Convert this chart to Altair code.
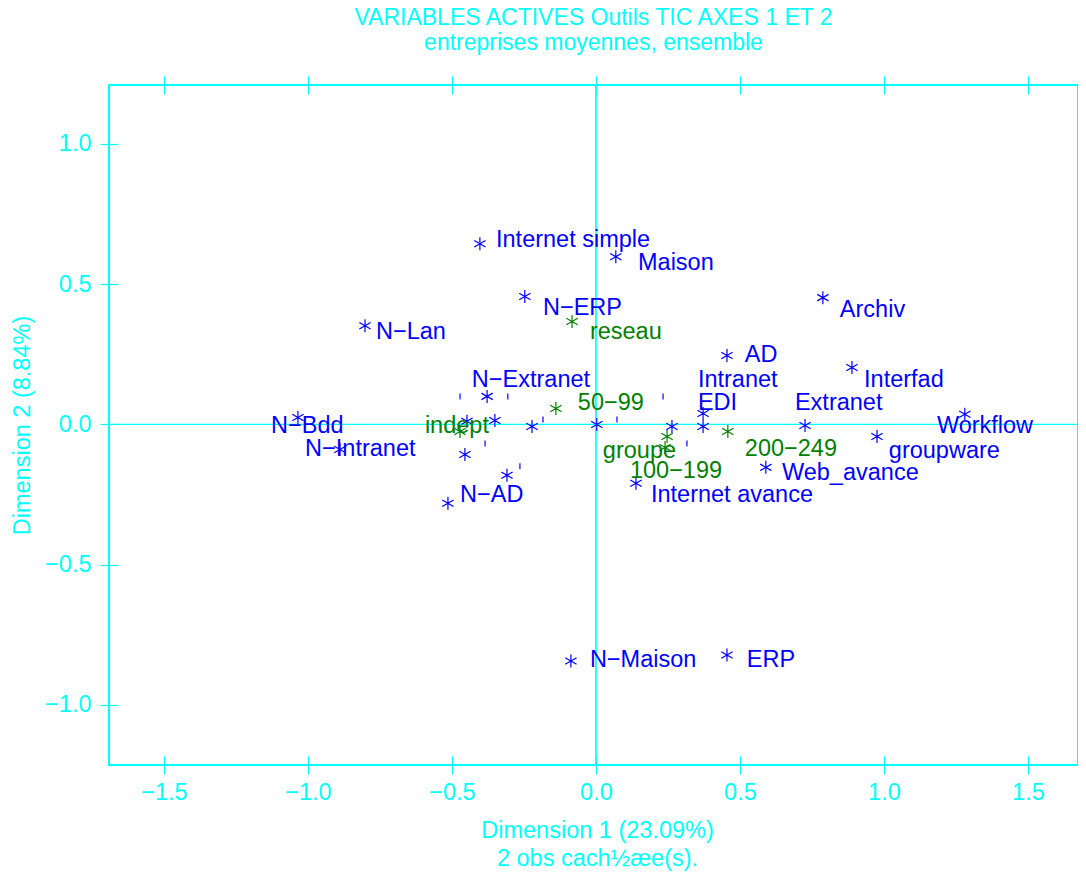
import altair as alt
import pandas as pd

CYAN = "#00FFFF"
BLUE = "#0000FF"
GREEN = "#008000"
FONT = "Liberation Sans"

# active variable points (blue asterisks)
act_x = [-0.403, 0.069, -0.247, -0.802, 0.788, 0.455, 0.889, 0.372, 0.372, 0.726,
         1.281, 0.976, 0.590, 0.139, -0.087, 0.455, -0.514, -1.035, -0.889, -0.378,
         -0.448, -0.351, -0.222, 0.003, 0.264, -0.455, -0.309]
act_y = [0.644, 0.598, 0.456, 0.352, 0.452, 0.246, 0.203, 0.039, -0.007, -0.004,
         0.036, -0.043, -0.153, -0.210, -0.843, -0.822, -0.281, 0.025, -0.089, 0.100,
         0.011, 0.014, -0.007, 0.000, -0.007, -0.107, -0.181]

# supplementary variable points (green asterisks)
sup_x = [-0.083, -0.139, -0.472, 0.247, 0.240, 0.458]
sup_y = [0.367, 0.057, -0.025, -0.043, -0.082, -0.025]

# labels
lab_text = ["Internet simple", "Maison", "N\u2212ERP", "N\u2212Lan", "Archiv", "AD",
            "Interfad", "Intranet", "EDI", "Extranet", "Workflow", "groupware",
            "Web_avance", "Internet avance", "N\u2212Maison", "ERP", "N\u2212AD",
            "N\u2212Bdd", "N\u2212Intranet", "N\u2212Extranet",
            "reseau", "50\u221299", "indept", "groupe", "100\u2212199", "200\u2212249"]
lab_x = [-0.347, 0.146, -0.184, -0.764, 0.847, 0.517, 0.931, 0.354, 0.354, 0.691,
         1.184, 1.017, 0.646, 0.191, -0.021, 0.524, -0.472, -1.128, -1.010, -0.431,
         -0.021, -0.063, -0.594, 0.024, 0.118, 0.517]
lab_y = [0.658, 0.577, 0.416, 0.331, 0.409, 0.246, 0.160, 0.157, 0.075, 0.075,
         -0.007, -0.093, -0.174, -0.253, -0.840, -0.840, -0.253, -0.004, -0.089, 0.160,
         0.331, 0.075, -0.007, -0.093, -0.167, -0.089]
lab_group = ["act"] * 20 + ["sup"] * 6

# small marks of hidden labels
hid_x = [-0.472, -0.306, -0.184, -0.385, -0.264, 0.073, 0.233, 0.316]
hid_y = [0.100, 0.100, 0.018, -0.068, -0.149, 0.018, 0.100, -0.068]

x_ticks = [-1.5, -1.0, -0.5, 0.0, 0.5, 1.0, 1.5]
y_ticks = [-1.0, -0.5, 0.0, 0.5, 1.0]

xs = alt.Scale(domain=[-1.691, 1.674], nice=False, zero=False)
ys = alt.Scale(domain=[-1.214, 1.21], nice=False, zero=False)

pts = pd.DataFrame({"x": act_x + sup_x, "y": act_y + sup_y,
                    "g": ["act"] * len(act_x) + ["sup"] * len(sup_x)})
labs = pd.DataFrame({"t": lab_text, "x": lab_x, "y": lab_y, "g": lab_group})
hid = pd.DataFrame({"x": hid_x, "y": hid_y})
zero = pd.DataFrame({"v": [0.0]})

color = alt.Color("g:N", scale=alt.Scale(domain=["act", "sup"], range=[BLUE, GREEN]), legend=None)

STAR = "M0,-1L0,1M-0.87,-0.5L0.87,0.5M-0.87,0.5L0.87,-0.5"
FS = 23.5

axis_common = dict(grid=False, domain=False, ticks=True, tickColor=CYAN, tickWidth=1.2,
                   tickSize=18, offset=-9, labelColor=CYAN, labelFont=FONT, labelFontSize=FS,
                   titleColor=CYAN, titleFont=FONT, titleFontSize=FS, titleFontWeight="normal")

bottom_axis = alt.Axis(orient="bottom", values=x_ticks, labelPadding=6, format=".1f",
                       title=["Dimension 1 (23.09%)", "2 obs cach\u00bd\u00e6e(s)."],
                       titleLineHeight=28, titleX=488, titleY=62, titleAlign="center",
                       titleBaseline="top", labelFlush=False, **axis_common)
top_axis = alt.Axis(orient="top", values=x_ticks, labels=False, title=None, **axis_common)
left_axis = alt.Axis(orient="left", values=y_ticks, labelPadding=9, format=".1f",
                     title="Dimension 2 (8.84%)", titleX=-84, titleY=340,
                     titleAlign="center", titleAngle=-90, titleBaseline="bottom",
                     labelFlush=False, **axis_common)

vline = alt.Chart(zero).mark_rule(color=CYAN, strokeWidth=1.2).encode(
    x=alt.X("v:Q", scale=xs, axis=bottom_axis))
vline_top = alt.Chart(zero).mark_rule(color=CYAN, strokeWidth=1.2).encode(
    x=alt.X("v:Q", scale=xs, axis=top_axis))
hline = alt.Chart(zero).mark_rule(color=CYAN, strokeWidth=1.2).encode(
    y=alt.Y("v:Q", scale=ys, axis=left_axis))

stars = alt.Chart(pts).mark_point(shape=STAR, size=169, strokeWidth=1.2, filled=False,
                                  opacity=1).encode(
    x=alt.X("x:Q", scale=xs, axis=None),
    y=alt.Y("y:Q", scale=ys, axis=None),
    color=color)

hidden = alt.Chart(hid).mark_point(shape="M0,-1L0,1", size=36, strokeWidth=1.2,
                                   filled=False, color=BLUE, opacity=1).encode(
    x=alt.X("x:Q", scale=xs, axis=None),
    y=alt.Y("y:Q", scale=ys, axis=None))

texts = alt.Chart(labs).mark_text(align="left", baseline="middle", font=FONT,
                                  fontSize=FS).encode(
    x=alt.X("x:Q", scale=xs, axis=None),
    y=alt.Y("y:Q", scale=ys, axis=None),
    text="t:N",
    color=color)

chart = alt.layer(vline, vline_top, hline, hidden, stars, texts).resolve_axis(
    x="independent", y="independent"
).properties(
    width=969, height=680,
    autosize=alt.AutoSizeParams(type="none"),
    padding={"left": 101, "top": 77, "right": 0, "bottom": 108},
    title=alt.TitleParams(
        text="VARIABLES ACTIVES Outils TIC AXES 1 ET 2",
        subtitle="entreprises moyennes, ensemble",
        color=CYAN, subtitleColor=CYAN, font=FONT, subtitleFont=FONT,
        fontSize=23, subtitleFontSize=23, fontWeight="normal",
        anchor="middle", offset=20, subtitlePadding=2),
).configure_view(stroke=CYAN, strokeWidth=2)

chart.save("out.html", embed_options={"renderer": "svg", "actions": False})
